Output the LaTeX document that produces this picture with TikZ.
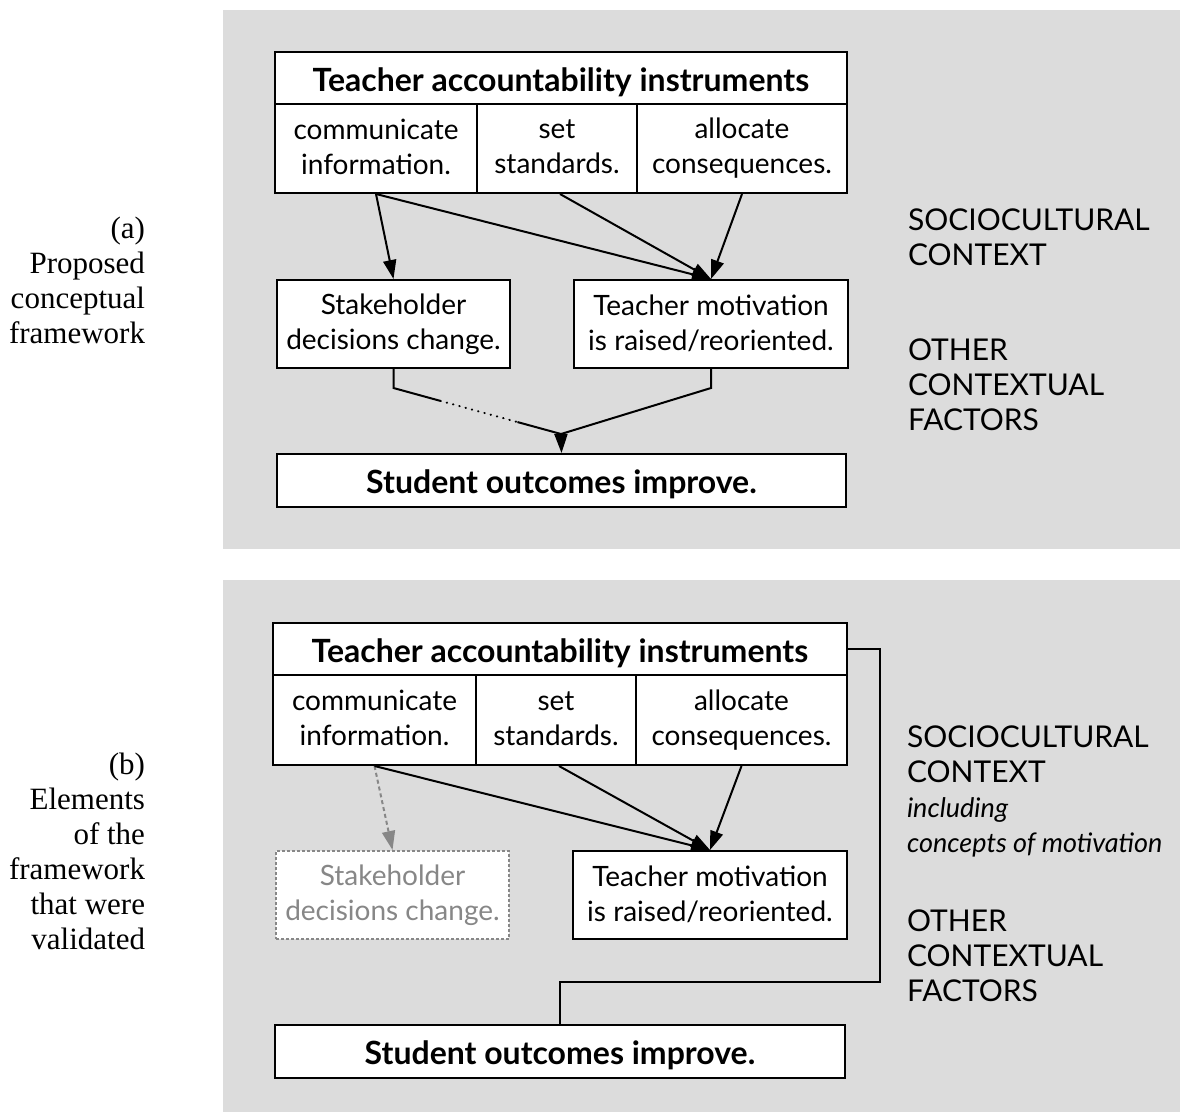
\documentclass[tikz,border=0pt]{standalone}
\usepackage{fontspec}
\setmainfont{Lato}
\newfontfamily\garafont{Liberation Serif}
\usetikzlibrary{arrows.meta,calc}

\definecolor{panelgray}{RGB}{220,220,220}
\definecolor{fadegray}{RGB}{135,135,135}
\newcommand{\boxstrut}{\rule[-3.5pt]{0pt}{35pt}}

\tikzset{
	box/.style={draw, line width=2pt, fill=white, inner sep=0pt, align=center,
		font=\fontsize{28}{35}\selectfont,
		execute at begin node=\boxstrut, execute at end node=\boxstrut},
	headbox/.style={box, font=\fontsize{32}{35}\selectfont\bfseries},
	fadedbox/.style={box, draw=fadegray, text=fadegray, dash pattern=on 3pt off 2pt},
	ctxtext/.style={anchor=west, align=left, inner sep=0pt, font=\fontsize{30}{35}\selectfont},
	sidetext/.style={anchor=east, align=right, inner sep=0pt, font=\garafont\fontsize{31}{35}\selectfont},
}

\begin{document}
\begin{tikzpicture}[x=1pt, y=-1pt, line width=2pt, >={Triangle[width=13pt, length=19pt]}]
	\useasboundingbox (0, 0) rectangle (1180, 1112);
	\fill[panelgray] (223, 10) rectangle (1180, 549);
	\fill[panelgray] (223, 580) rectangle (1180, 1112);

	% (a) proposed
	\node[headbox, minimum width=572pt, minimum height=52pt] (instrA) at (561, 78) {Teacher accountability instruments};
	\node[box, minimum width=202pt, minimum height=89pt] (commA) at (376, 148.5) {communicate\\information.};
	\node[box, minimum width=160pt, minimum height=89pt] (setA) at (557, 148.5) {set\\standards.};
	\node[box, minimum width=210pt, minimum height=89pt] (allocA) at (742, 148.5) {allocate\\consequences.};
	\node[box, minimum width=233pt, minimum height=88pt] (stakeA) at (393.5, 324) {Stakeholder\\decisions change.};
	\node[box, minimum width=274pt, minimum height=88pt] (motivA) at (711, 324) {Teacher motivation\\is raised/reoriented.};
	\node[headbox, minimum width=569pt, minimum height=53pt] (studA) at (561.5, 480.5) {Student outcomes improve.};

	\draw[->] (commA.south) -- (stakeA.north);
	\draw[->] (commA.south) -- (motivA.north);
	\draw[->] (setA.south) ++(3, 0) -- (motivA.north);
	\draw[->] (allocA.south) -- (motivA.north);

	\coordinate (joinA) at (561, 434);
	\draw (stakeA.south) -- ++(0, 19) coordinate (kinkA) -- ($(kinkA)!.28!(joinA)$);
	\draw[line cap=round, dash pattern=on 0.5pt off 6pt] ($(kinkA)!.28!(joinA)$) -- ($(kinkA)!.74!(joinA)$);
	\draw ($(kinkA)!.74!(joinA)$) -- (joinA);
	\draw (motivA.south) -- ++(0, 19) -- (joinA);
	\draw[->] (joinA) -- (studA.north);

	\node[ctxtext] (socioA) at (907, 237.5) {SOCIOCULTURAL\\CONTEXT};
	\node[ctxtext] (otherA) at (907, 385) {OTHER\\CONTEXTUAL\\FACTORS};
	\node[sidetext] (labelA) at (146, 280.5) {(a)\\Proposed\\conceptual\\framework};

	% (b) validated
	\node[headbox, minimum width=574pt, minimum height=52pt] (instrB) at (560, 649) {Teacher accountability instruments};
	\node[box, minimum width=203pt, minimum height=90pt] (commB) at (374.5, 720) {communicate\\information.};
	\node[box, minimum width=160pt, minimum height=90pt] (setB) at (556, 720) {set\\standards.};
	\node[box, minimum width=211pt, minimum height=90pt] (allocB) at (741.5, 720) {allocate\\consequences.};
	\node[fadedbox, minimum width=233pt, minimum height=88pt] (stakeB) at (392.5, 895) {Stakeholder\\decisions change.};
	\node[box, minimum width=274pt, minimum height=88pt] (motivB) at (710, 895) {Teacher motivation\\is raised/reoriented.};
	\node[headbox, minimum width=570pt, minimum height=53pt] (studB) at (560, 1051.5) {Student outcomes improve.};

	\draw[->, fadegray, dash pattern=on 4pt off 3pt] (commB.south) -- (stakeB.north);
	\draw[->] (commB.south) -- (motivB.north);
	\draw[->] (setB.south) ++(3, 0) -- (motivB.north);
	\draw[->] (allocB.south) -- (motivB.north);

	\coordinate (cornerB) at (880, 982);
	\draw (instrB.east) -| (cornerB) -| (studB.north);

	\node[ctxtext] (socioB) at (906, 791) {SOCIOCULTURAL\\CONTEXT\\{\fontsize{27}{35}\selectfont\itshape including}\\{\fontsize{27}{35}\selectfont\itshape concepts of motivation}};
	\node[ctxtext] (otherB) at (906, 956) {OTHER\\CONTEXTUAL\\FACTORS};
	\node[sidetext] (labelB) at (146, 851) {(b)\\Elements\\of the\\framework\\that were\\validated};
\end{tikzpicture}
\end{document}
